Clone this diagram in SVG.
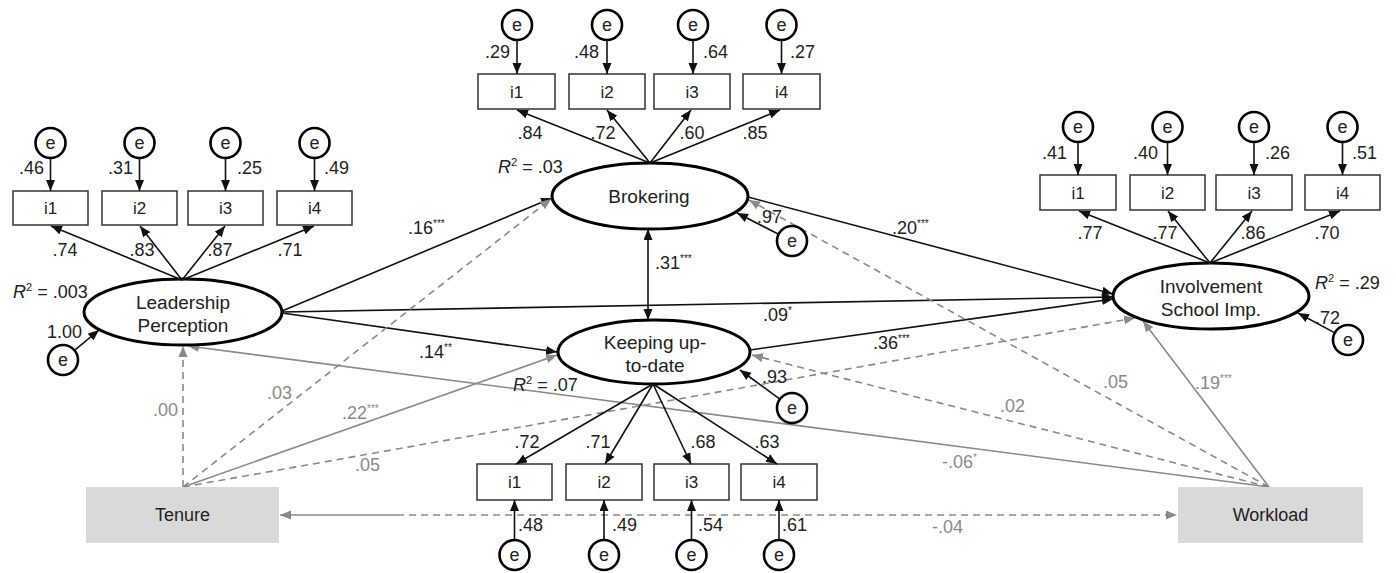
<svg xmlns="http://www.w3.org/2000/svg" width="1396" height="573" viewBox="0 0 1396 573">
<defs>
<style>
text{font-family:"Liberation Sans",Arial,sans-serif;font-size:18px;fill:#222}
.g{fill:#8a8a8a}
.lbl{font-size:17px}
.lt{font-size:19px}
.box{fill:#fff;stroke:#333;stroke-width:1.5}
.obs{fill:#d9d9d9;stroke:none}
.lat{fill:#fff;stroke:#000;stroke-width:3}
.err{fill:#fff;stroke:#000;stroke-width:2.6}
.bl{stroke:#111;stroke-width:1.6;fill:none;marker-end:url(#ab)}
.gs{stroke:#8a8a8a;stroke-width:1.6;fill:none;marker-end:url(#ag)}
.gd{stroke:#8a8a8a;stroke-width:1.6;fill:none;stroke-dasharray:7 5;marker-end:url(#ag)}
.sup{font-size:10px}
</style>
<marker id="ab" markerUnits="userSpaceOnUse" markerWidth="12" markerHeight="10" refX="11" refY="4.5" orient="auto-start-reverse"><path d="M0,0 L11,4.5 L0,9 z" fill="#111"/></marker>
<marker id="ag" markerUnits="userSpaceOnUse" markerWidth="12" markerHeight="10" refX="11" refY="4.5" orient="auto-start-reverse"><path d="M0,0 L11,4.5 L0,9 z" fill="#8a8a8a"/></marker>
</defs>
<rect width="1396" height="573" fill="#fff"/>

<g id="connectors">
<!-- structural paths -->
<line class="bl" x1="282" y1="311" x2="552" y2="198"/>
<line class="bl" x1="282" y1="312" x2="1113" y2="297"/>
<line class="bl" x1="282" y1="313" x2="557" y2="352"/>
<line class="bl" x1="748" y1="197" x2="1113" y2="294"/>
<line class="bl" x1="750" y1="350" x2="1113" y2="299"/>
<line class="bl" x1="648" y1="229" x2="648" y2="320" marker-start="url(#ab)"/>
<!-- Tenure paths -->
<line class="gd" x1="183" y1="487" x2="183" y2="346"/>
<line class="gd" x1="183" y1="487" x2="551" y2="199"/>
<line class="gs" x1="183" y1="487" x2="557" y2="355"/>
<line class="gd" x1="183" y1="487" x2="1135" y2="318"/>
<!-- Workload paths -->
<line class="gs" x1="1269" y1="487" x2="188" y2="346"/>
<line class="gd" x1="1269" y1="487" x2="749" y2="200"/>
<line class="gd" x1="1269" y1="487" x2="752" y2="355"/>
<line class="gs" x1="1269" y1="487" x2="1143" y2="321"/>
<!-- Tenure <-> Workload covariance -->
<path d="M397,515 L280,515" stroke="#8a8a8a" stroke-width="1.6" fill="none" marker-end="url(#ag)"/>
<line class="gd" x1="397" y1="515" x2="1177" y2="515"/>
<!-- path labels -->
<text x="408" y="234">.16<tspan class="sup" dy="-7">***</tspan></text>
<text x="419" y="358">.14<tspan class="sup" dy="-7">**</tspan></text>
<text x="763" y="321">.09<tspan class="sup" dy="-7">*</tspan></text>
<text x="892" y="234">.20<tspan class="sup" dy="-7">***</tspan></text>
<text x="873" y="349">.36<tspan class="sup" dy="-7">***</tspan></text>
<text x="655" y="269">.31<tspan class="sup" dy="-7">***</tspan></text>
<text class="g" x="178" y="416" text-anchor="end">.00</text>
<text class="g" x="267" y="399">.03</text>
<text class="g" x="342" y="419">.22<tspan class="sup g" dy="-7">***</tspan></text>
<text class="g" x="355" y="471">.05</text>
<text class="g" x="942" y="468">-.06<tspan class="sup g" dy="-7">*</tspan></text>
<text class="g" x="1000" y="412">.02</text>
<text class="g" x="1103" y="388">.05</text>
<text class="g" x="1195" y="389">.19<tspan class="sup g" dy="-7">***</tspan></text>
<text class="g" x="932" y="533">-.04</text>
</g>

<g id="leadership">
<ellipse class="lat" cx="183" cy="312" rx="99" ry="33"/>
<text class="lt" x="183" y="309" text-anchor="middle">Leadership</text>
<text class="lt" x="183" y="332" text-anchor="middle">Perception</text>
<text x="13" y="298"><tspan font-style="italic">R</tspan><tspan font-size="11" dy="-7">2</tspan><tspan dy="7"> = .003</tspan></text>
<g id="leadership-indicators">
<rect class="box" x="13" y="191" width="75" height="34"/><text class="lbl" x="50.5" y="214" text-anchor="middle">i1</text>
<rect class="box" x="102" y="191" width="75" height="34"/><text class="lbl" x="139.5" y="214" text-anchor="middle">i2</text>
<rect class="box" x="188" y="191" width="75" height="34"/><text class="lbl" x="225.5" y="214" text-anchor="middle">i3</text>
<rect class="box" x="277" y="191" width="75" height="34"/><text class="lbl" x="314.5" y="214" text-anchor="middle">i4</text>
<line class="bl" x1="182" y1="280" x2="51" y2="226"/>
<line class="bl" x1="182" y1="280" x2="140" y2="226"/>
<line class="bl" x1="182" y1="280" x2="225" y2="226"/>
<line class="bl" x1="182" y1="280" x2="314" y2="226"/>
<text x="65" y="256" text-anchor="middle">.74</text>
<text x="142" y="256" text-anchor="middle">.83</text>
<text x="220" y="256" text-anchor="middle">.87</text>
<text x="290" y="256" text-anchor="middle">.71</text>
<circle class="err" cx="50.5" cy="143" r="15"/><text x="50.5" y="149" text-anchor="middle">e</text>
<circle class="err" cx="139.5" cy="143" r="15"/><text x="139.5" y="149" text-anchor="middle">e</text>
<circle class="err" cx="225.5" cy="143" r="15"/><text x="225.5" y="149" text-anchor="middle">e</text>
<circle class="err" cx="314.5" cy="143" r="15"/><text x="314.5" y="149" text-anchor="middle">e</text>
<line class="bl" x1="50.5" y1="158" x2="50.5" y2="191"/>
<line class="bl" x1="139.5" y1="158" x2="139.5" y2="191"/>
<line class="bl" x1="225.5" y1="158" x2="225.5" y2="191"/>
<line class="bl" x1="314.5" y1="158" x2="314.5" y2="191"/>
<text x="44" y="174" text-anchor="end">.46</text>
<text x="133" y="174" text-anchor="end">.31</text>
<text x="237" y="174">.25</text>
<text x="324" y="174">.49</text>
</g>
<circle class="err" cx="63" cy="360" r="15"/><text x="63" y="366" text-anchor="middle">e</text>
<line class="bl" x1="74.5" y1="350.4" x2="99" y2="330"/>
<text x="82" y="338" text-anchor="end">1.00</text>
</g>

<g id="brokering">
<ellipse class="lat" cx="650" cy="196" rx="98" ry="33"/>
<text class="lt" x="649" y="203" text-anchor="middle">Brokering</text>
<text x="498" y="173"><tspan font-style="italic">R</tspan><tspan font-size="11" dy="-7">2</tspan><tspan dy="7"> = .03</tspan></text>
<rect class="box" x="478" y="74" width="77" height="35"/><text class="lbl" x="516.5" y="98" text-anchor="middle">i1</text>
<rect class="box" x="569" y="74" width="76" height="35"/><text class="lbl" x="607" y="98" text-anchor="middle">i2</text>
<rect class="box" x="654" y="74" width="76" height="35"/><text class="lbl" x="692" y="98" text-anchor="middle">i3</text>
<rect class="box" x="743" y="74" width="77" height="35"/><text class="lbl" x="781.5" y="98" text-anchor="middle">i4</text>
<line class="bl" x1="650" y1="163" x2="517" y2="110"/>
<line class="bl" x1="650" y1="163" x2="607" y2="110"/>
<line class="bl" x1="650" y1="163" x2="691" y2="110"/>
<line class="bl" x1="650" y1="163" x2="780" y2="110"/>
<text x="530" y="139" text-anchor="middle">.84</text>
<text x="603" y="139" text-anchor="middle">.72</text>
<text x="692" y="139" text-anchor="middle">.60</text>
<text x="755" y="139" text-anchor="middle">.85</text>
<circle class="err" cx="517" cy="25" r="15"/><text x="517" y="31" text-anchor="middle">e</text>
<circle class="err" cx="607" cy="25" r="15"/><text x="607" y="31" text-anchor="middle">e</text>
<circle class="err" cx="693" cy="25" r="15"/><text x="693" y="31" text-anchor="middle">e</text>
<circle class="err" cx="781.5" cy="25" r="15"/><text x="781.5" y="31" text-anchor="middle">e</text>
<line class="bl" x1="517" y1="40" x2="517" y2="74"/>
<line class="bl" x1="607" y1="40" x2="607" y2="74"/>
<line class="bl" x1="693" y1="40" x2="693" y2="74"/>
<line class="bl" x1="781.5" y1="40" x2="781.5" y2="74"/>
<text x="510" y="58" text-anchor="end">.29</text>
<text x="599" y="58" text-anchor="end">.48</text>
<text x="703" y="58">.64</text>
<text x="790" y="58">.27</text>
<circle class="err" cx="792" cy="241" r="15"/><text x="792" y="247" text-anchor="middle">e</text>
<line class="bl" x1="778.6" y1="234.2" x2="737" y2="213"/>
<text x="757" y="223">.97</text>
</g>

<g id="keeping">
<ellipse class="lat" cx="654" cy="352" rx="96" ry="32"/>
<text class="lt" x="655" y="349" text-anchor="middle">Keeping up-</text>
<text class="lt" x="655" y="372" text-anchor="middle">to-date</text>
<text x="513" y="391"><tspan font-style="italic">R</tspan><tspan font-size="11" dy="-7">2</tspan><tspan dy="7"> = .07</tspan></text>
<rect class="box" x="477" y="464" width="75" height="36"/><text class="lbl" x="514.5" y="488" text-anchor="middle">i1</text>
<rect class="box" x="566" y="464" width="76" height="36"/><text class="lbl" x="604" y="488" text-anchor="middle">i2</text>
<rect class="box" x="654" y="464" width="75" height="36"/><text class="lbl" x="691.5" y="488" text-anchor="middle">i3</text>
<rect class="box" x="741" y="464" width="76" height="36"/><text class="lbl" x="779" y="488" text-anchor="middle">i4</text>
<line class="bl" x1="653" y1="384" x2="516" y2="464"/>
<line class="bl" x1="653" y1="384" x2="605" y2="464"/>
<line class="bl" x1="653" y1="384" x2="691" y2="464"/>
<line class="bl" x1="653" y1="384" x2="777" y2="464"/>
<text x="527" y="448" text-anchor="middle">.72</text>
<text x="598" y="448" text-anchor="middle">.71</text>
<text x="703" y="448" text-anchor="middle">.68</text>
<text x="767" y="448" text-anchor="middle">.63</text>
<circle class="err" cx="514.5" cy="555" r="15"/><text x="514.5" y="561" text-anchor="middle">e</text>
<circle class="err" cx="604" cy="555" r="15"/><text x="604" y="561" text-anchor="middle">e</text>
<circle class="err" cx="691.5" cy="555" r="15"/><text x="691.5" y="561" text-anchor="middle">e</text>
<circle class="err" cx="779" cy="555" r="15"/><text x="779" y="561" text-anchor="middle">e</text>
<line class="bl" x1="514.5" y1="540" x2="514.5" y2="500"/>
<line class="bl" x1="604" y1="540" x2="604" y2="500"/>
<line class="bl" x1="691.5" y1="540" x2="691.5" y2="500"/>
<line class="bl" x1="779" y1="540" x2="779" y2="500"/>
<text x="518" y="531">.48</text>
<text x="612" y="531">.49</text>
<text x="698" y="531">.54</text>
<text x="782" y="531">.61</text>
<circle class="err" cx="792" cy="408" r="15"/><text x="792" y="414" text-anchor="middle">e</text>
<line class="bl" x1="779.9" y1="399.1" x2="740" y2="370"/>
<text x="762" y="383">.93</text>
</g>

<g id="involvement">
<ellipse class="lat" cx="1211" cy="296" rx="98" ry="33"/>
<text class="lt" x="1211" y="293" text-anchor="middle">Involvement</text>
<text class="lt" x="1211" y="316" text-anchor="middle">School Imp.</text>
<text x="1315" y="289"><tspan font-style="italic">R</tspan><tspan font-size="11" dy="-7">2</tspan><tspan dy="7"> = .29</tspan></text>
<rect class="box" x="1040" y="175" width="76" height="35"/><text class="lbl" x="1078" y="199" text-anchor="middle">i1</text>
<rect class="box" x="1130" y="175" width="75" height="35"/><text class="lbl" x="1167.5" y="199" text-anchor="middle">i2</text>
<rect class="box" x="1216" y="175" width="76" height="35"/><text class="lbl" x="1254" y="199" text-anchor="middle">i3</text>
<rect class="box" x="1305" y="175" width="75" height="35"/><text class="lbl" x="1342.5" y="199" text-anchor="middle">i4</text>
<line class="bl" x1="1210" y1="263" x2="1079" y2="211"/>
<line class="bl" x1="1210" y1="263" x2="1168" y2="211"/>
<line class="bl" x1="1210" y1="263" x2="1252" y2="211"/>
<line class="bl" x1="1210" y1="263" x2="1340" y2="211"/>
<text x="1090" y="239" text-anchor="middle">.77</text>
<text x="1165" y="239" text-anchor="middle">.77</text>
<text x="1253" y="239" text-anchor="middle">.86</text>
<text x="1327" y="239" text-anchor="middle">.70</text>
<circle class="err" cx="1078" cy="127" r="15"/><text x="1078" y="133" text-anchor="middle">e</text>
<circle class="err" cx="1167.5" cy="127" r="15"/><text x="1167.5" y="133" text-anchor="middle">e</text>
<circle class="err" cx="1254" cy="127" r="15"/><text x="1254" y="133" text-anchor="middle">e</text>
<circle class="err" cx="1342.5" cy="127" r="15"/><text x="1342.5" y="133" text-anchor="middle">e</text>
<line class="bl" x1="1078" y1="142" x2="1078" y2="175"/>
<line class="bl" x1="1167.5" y1="142" x2="1167.5" y2="175"/>
<line class="bl" x1="1254" y1="142" x2="1254" y2="175"/>
<line class="bl" x1="1342.5" y1="142" x2="1342.5" y2="175"/>
<text x="1067" y="159" text-anchor="end">.41</text>
<text x="1158" y="159" text-anchor="end">.40</text>
<text x="1265" y="159">.26</text>
<text x="1352" y="159">.51</text>
<circle class="err" cx="1348" cy="340" r="15"/><text x="1348" y="346" text-anchor="middle">e</text>
<line class="bl" x1="1334.8" y1="332.9" x2="1298" y2="313"/>
<text x="1315" y="324">.72</text>
</g>

<g id="tenure">
<rect class="obs" x="86" y="487" width="193" height="56"/>
<text x="182.5" y="521" text-anchor="middle">Tenure</text>
</g>
<g id="workload">
<rect class="obs" x="1178" y="487" width="185" height="56"/>
<text x="1270.5" y="521" text-anchor="middle">Workload</text>
</g>
</svg>
